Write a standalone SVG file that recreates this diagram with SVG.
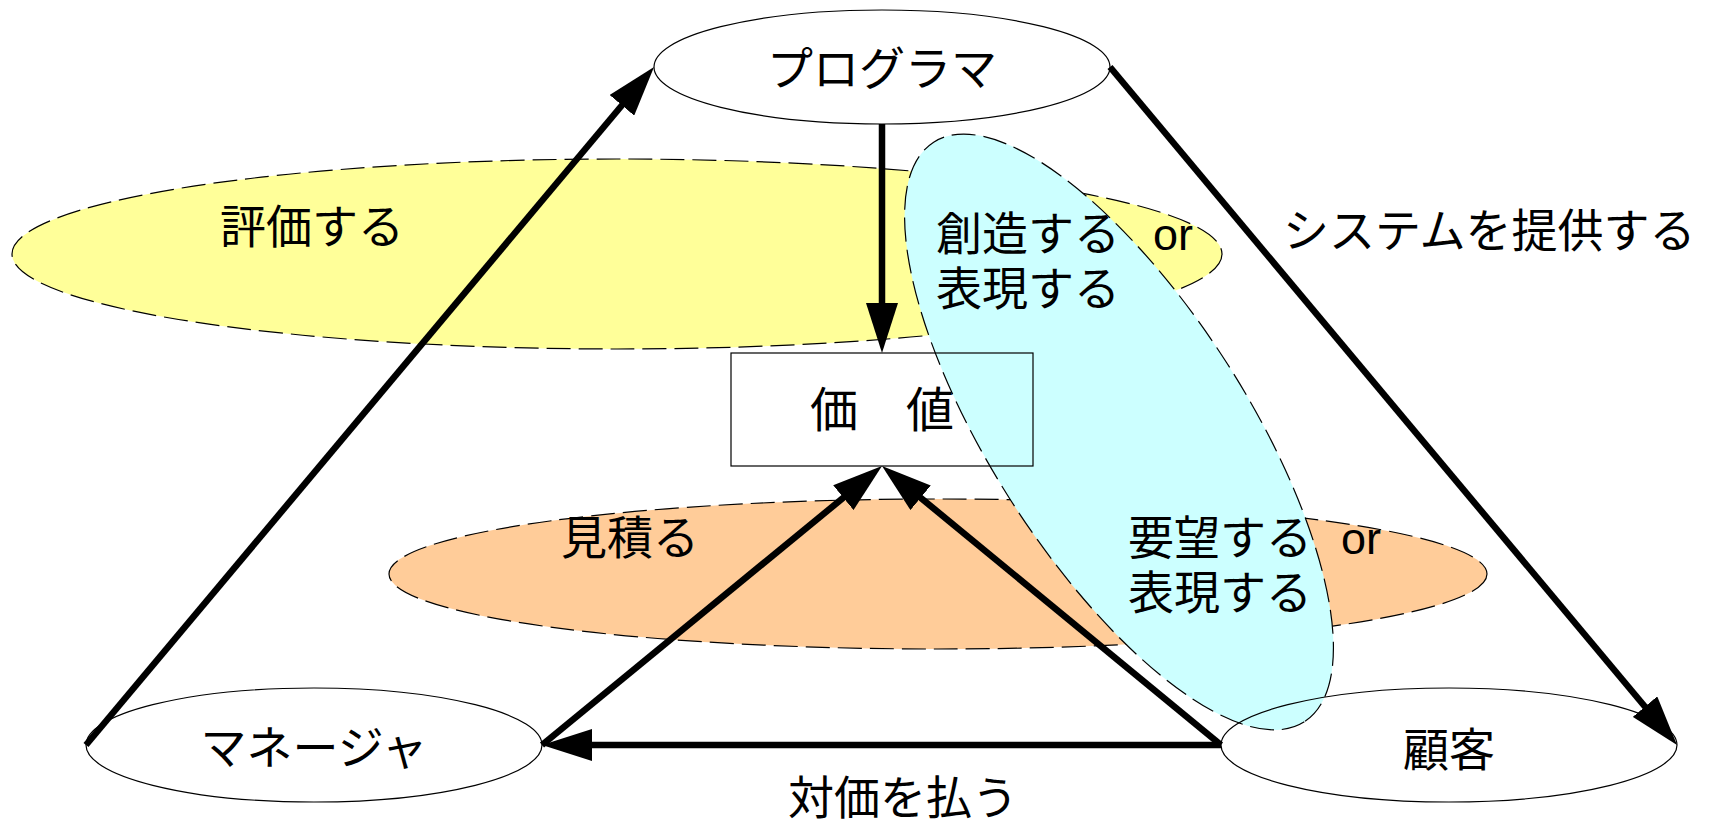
<svg xmlns="http://www.w3.org/2000/svg" width="1719" height="827" viewBox="0 0 1719 827">
<style>
.region{stroke:#000;stroke-width:1.2;stroke-dasharray:24 8}
.node{fill:none;stroke:#000;stroke-width:1.2}
.conn{fill:none;stroke:#000;stroke-width:6.5}
.jp{font-family:"Noto Sans CJK JP","Noto Sans CJK SC",sans-serif;font-size:46px;fill:#000}
.lat{font-family:"Liberation Sans",Arial,sans-serif;font-size:45px}
</style>
<defs>
<marker id="ah" markerUnits="userSpaceOnUse" markerWidth="50" markerHeight="32" refX="35" refY="16" orient="auto" viewBox="0 0 50 32">
<path d="M0,0 L50,16 L0,32 z" fill="#000"/>
</marker>
</defs>
<rect width="1719" height="827" fill="#fff"/>
<g id="regions">
<g id="region-evaluate"><ellipse class="region" cx="617" cy="254" rx="605" ry="95" fill="#ffff99"/></g>
<g id="region-estimate"><ellipse class="region" cx="938" cy="574" rx="549" ry="75" fill="#ffcc99"/></g>
<g id="region-express"><ellipse class="region" cx="1119" cy="432" rx="344" ry="128" fill="#ccffff" transform="rotate(57.4 1119 432)"/></g>
</g>
<g id="node-programmer"><ellipse class="node" cx="882" cy="67" rx="228" ry="57"/><text class="jp" x="882" y="85" text-anchor="middle">プログラマ</text></g>
<g id="node-manager"><ellipse class="node" cx="314" cy="745" rx="228" ry="57"/><text class="jp" x="314" y="764" text-anchor="middle">マネージャ</text></g>
<g id="node-customer"><ellipse class="node" cx="1449" cy="745" rx="228" ry="57"/><text class="jp" x="1449" y="766" text-anchor="middle">顧客</text></g>
<g id="node-value"><rect class="node" x="731" y="353" width="302" height="113"/><text class="jp" x="882" y="427" text-anchor="middle" style="font-size:48px">価　値</text></g>
<g id="connectors">
<line class="conn" x1="86" y1="745" x2="644.4" y2="78.5" marker-end="url(#ah)"/>
<line class="conn" x1="1110" y1="67" x2="1667.4" y2="733.5" marker-end="url(#ah)"/>
<line class="conn" x1="882" y1="124" x2="882" y2="338" marker-end="url(#ah)"/>
<line class="conn" x1="1221" y1="745" x2="557" y2="745" marker-end="url(#ah)"/>
<line class="conn" x1="542" y1="745" x2="870.4" y2="475.5" marker-end="url(#ah)"/>
<line class="conn" x1="1221" y1="745" x2="893.6" y2="475.5" marker-end="url(#ah)"/>
</g>
<g id="labels">
<text class="jp" x="220" y="243">評価する</text>
<text class="jp" x="1283" y="247">システムを提供する</text>
<text class="jp" x="561" y="554">見積る</text>
<text class="jp" x="788" y="814">対価を払う</text>
<text class="jp"><tspan x="936" y="250">創造する</tspan><tspan class="lat" x="1153" y="250">or</tspan><tspan x="936" y="305">表現する</tspan></text>
<text class="jp"><tspan x="1128" y="554">要望する</tspan><tspan class="lat" x="1341" y="554">or</tspan><tspan x="1128" y="609">表現する</tspan></text>
</g>
</svg>
